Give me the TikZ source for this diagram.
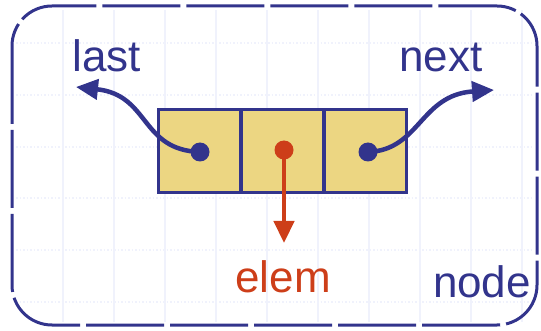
\documentclass[tikz,border=0pt]{standalone}
\usepackage{fontspec}
\setmainfont{Liberation Sans}
\usetikzlibrary{arrows.meta}
\definecolor{navy}{RGB}{50,52,140}
\definecolor{cellyellow}{RGB}{236,214,130}
\definecolor{elemred}{RGB}{205,62,25}
\definecolor{gridblue}{RGB}{240,242,252}
\tikzset{
  cell/.style={draw=navy, fill=cellyellow, line width=3pt, minimum width=82pt, minimum height=83pt, inner sep=0pt},
  dot/.style={circle, fill=#1, minimum size=19pt, inner sep=0pt},
  ptr/.style={navy, line width=4.5pt, -{Triangle[length=22pt,width=20pt]}},
  label/.style={navy, anchor=base, font=\fontsize{44}{44}\selectfont},
}
\begin{document}
\begin{tikzpicture}[x=1pt,y=-1pt]
  \useasboundingbox (0,0) rectangle (541,331);
  % faint grid
  \foreach \x in {63,114,165,216,267,318,369,420,471,522}
    \draw[gridblue, line width=1.2pt] (\x,10) -- (\x,322);
  \foreach \y in {43,95,147,198,250,302}
    \draw[gridblue, line width=1.5pt, dotted] (16,\y) -- (534,\y);
  % node outline
  \draw[navy, line width=3pt, dash pattern=on 78pt off 6pt, rounded corners=40pt] (12,6) rectangle (537,325);
  % the three cells
  \node[cell] (prev) at (199,151.5) {};
  \node[cell] (item) at (282,151.5) {};
  \node[cell] (succ) at (365,151.5) {};
  \node[dot=navy] (p1) at (200,152) {};
  \node[dot=elemred] (p2) at (284,150) {};
  \node[dot=navy] (p3) at (368,152) {};
  % labels
  \node[label] (last) at (107,72) {last};
  \node[label] (next) at (441,72) {next};
  \node[label, text=elemred] (elem) at (283,292) {elem};
  \node[label] (name) at (482,298) {node};
  \coordinate (lasttip) at (76,87);
  \coordinate (nexttip) at (494,90);
  \coordinate (elemtip) at (284,243);
  % pointers
  \draw[ptr] (p1.center) .. controls (140,150) and (150,95) .. (lasttip);
  \draw[ptr] (p3.center) .. controls (420,150) and (420,95) .. (nexttip);
  \draw[ptr, elemred] (p2.center) -- (elemtip);
\end{tikzpicture}
\end{document}
